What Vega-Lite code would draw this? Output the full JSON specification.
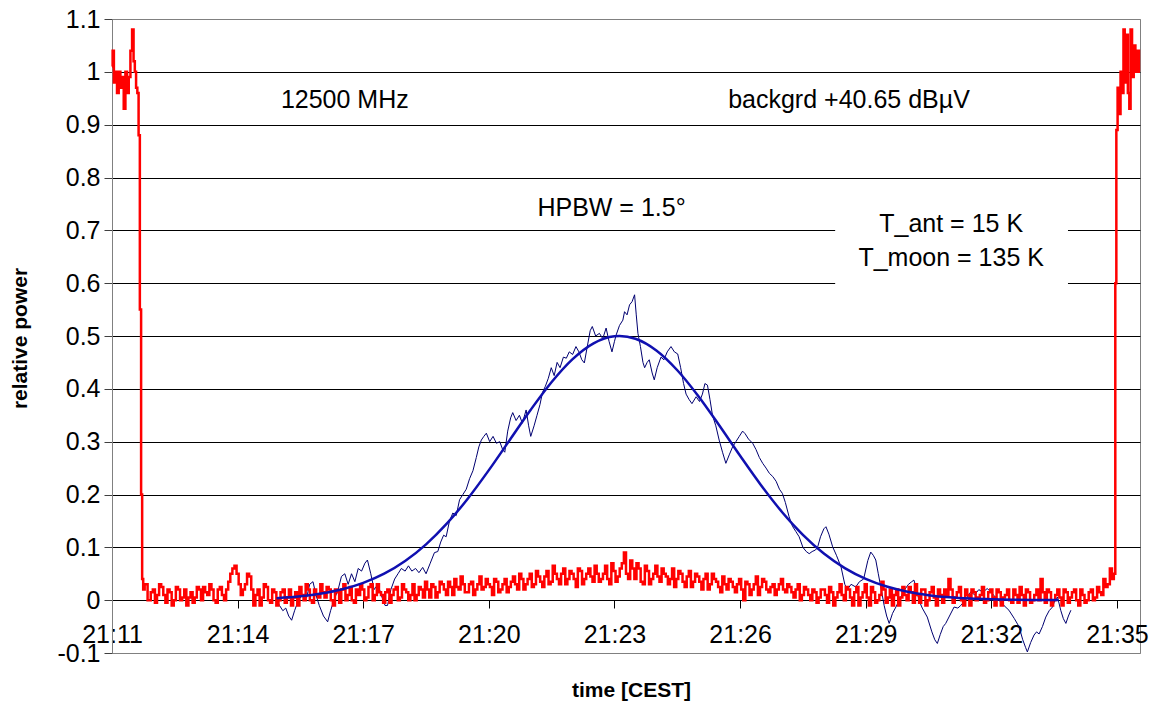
{
"$schema": "https://vega.github.io/schema/vega-lite/v6.json",
"width": 1028, "height": 634,
"autosize": {"type": "none"},
"padding": {"left": 112, "top": 19, "right": 16, "bottom": 57},
"background": "white",
"config": {"font": "Liberation Sans", "view": {"stroke": "#808080", "strokeWidth": 1}},
"datasets": {
"red": [
{"t":11.00,"v":1.01},{"t":11.03,"v":1.04},{"t":11.06,"v":0.98},{"t":11.10,"v":1.0},{"t":11.14,"v":0.96},{"t":11.18,"v":1.0},{"t":11.22,"v":0.97},{"t":11.26,"v":0.99},{"t":11.30,"v":0.93},{"t":11.34,"v":1.0},{"t":11.38,"v":0.96},{"t":11.42,"v":0.99},{"t":11.46,"v":1.04},{"t":11.50,"v":1.08},{"t":11.53,"v":1.02},{"t":11.56,"v":1.0},{"t":11.59,"v":0.97},{"t":11.62,"v":0.96},{"t":11.65,"v":0.88},{"t":11.68,"v":0.55},{"t":11.71,"v":0.2},{"t":11.73,"v":0.04},{"t":11.76,"v":0.02},{"t":11.80,"v":0.03},
{"t":11.9,"v":0.0},{"t":12.0,"v":0.02},{"t":12.1,"v":0.01},{"t":12.2,"v":0.025},{"t":12.3,"v":-0.005},{"t":12.4,"v":0.015},{"t":12.5,"v":0.0},{"t":12.6,"v":0.02},{"t":12.7,"v":0.005},{"t":12.8,"v":-0.01},{"t":12.9,"v":0.015},
{"t":13.0,"v":0.005},{"t":13.1,"v":0.02},{"t":13.2,"v":0.025},{"t":13.3,"v":0.01},{"t":13.4,"v":0.02},{"t":13.5,"v":-0.005},{"t":13.6,"v":0.025},{"t":13.7,"v":0.0},{"t":13.8,"v":0.035},{"t":13.9,"v":0.06},
{"t":14.0,"v":0.05},{"t":14.1,"v":0.01},{"t":14.2,"v":0.03},{"t":14.3,"v":0.045},{"t":14.4,"v":-0.01},{"t":14.5,"v":0.02},{"t":14.6,"v":0.005},{"t":14.7,"v":0.025},{"t":14.8,"v":-0.005},{"t":14.9,"v":0.015},
{"t":15.0,"v":0.0},{"t":15.1,"v":0.02},{"t":15.2,"v":0.005},{"t":15.3,"v":-0.01},{"t":15.4,"v":0.015},{"t":15.5,"v":0.025},{"t":15.6,"v":0.0},{"t":15.7,"v":0.02},{"t":15.8,"v":-0.005},{"t":15.9,"v":0.01},
{"t":16.0,"v":0.03},{"t":16.1,"v":0.005},{"t":16.2,"v":0.02},{"t":16.3,"v":-0.01},{"t":16.4,"v":0.015},{"t":16.5,"v":0.02},{"t":16.6,"v":0.0},{"t":16.7,"v":0.025},{"t":16.8,"v":-0.005},{"t":16.9,"v":0.01},
{"t":17.0,"v":0.02},{"t":17.1,"v":0.005},{"t":17.2,"v":0.03},{"t":17.3,"v":0.01},{"t":17.4,"v":0.015},{"t":17.5,"v":-0.005},{"t":17.6,"v":0.02},{"t":17.7,"v":0.01},{"t":17.8,"v":0.025},{"t":17.9,"v":0.005},
{"t":18.0,"v":0.02},{"t":18.1,"v":0.0},{"t":18.2,"v":0.03},{"t":18.3,"v":0.01},{"t":18.4,"v":0.02},{"t":18.5,"v":0.035},{"t":18.6,"v":0.005},{"t":18.7,"v":0.025},{"t":18.8,"v":0.015},{"t":18.9,"v":0.03},
{"t":19.0,"v":0.01},{"t":19.1,"v":0.025},{"t":19.2,"v":0.04},{"t":19.3,"v":0.02},{"t":19.4,"v":0.03},{"t":19.5,"v":0.015},{"t":19.6,"v":0.035},{"t":19.7,"v":0.02},{"t":19.8,"v":0.045},{"t":19.9,"v":0.025},
{"t":20.0,"v":0.03},{"t":20.1,"v":0.01},{"t":20.2,"v":0.035},{"t":20.3,"v":0.02},{"t":20.4,"v":0.04},{"t":20.5,"v":0.025},{"t":20.6,"v":0.045},{"t":20.7,"v":0.02},{"t":20.8,"v":0.04},{"t":20.9,"v":0.03},
{"t":21.0,"v":0.05},{"t":21.1,"v":0.03},{"t":21.2,"v":0.045},{"t":21.3,"v":0.025},{"t":21.4,"v":0.055},{"t":21.5,"v":0.035},{"t":21.6,"v":0.05},{"t":21.7,"v":0.03},{"t":21.8,"v":0.06},{"t":21.9,"v":0.04},
{"t":22.0,"v":0.05},{"t":22.1,"v":0.025},{"t":22.2,"v":0.055},{"t":22.3,"v":0.04},{"t":22.4,"v":0.06},{"t":22.5,"v":0.035},{"t":22.6,"v":0.05},{"t":22.7,"v":0.04},{"t":22.8,"v":0.065},{"t":22.9,"v":0.03},
{"t":23.0,"v":0.055},{"t":23.1,"v":0.045},{"t":23.2,"v":0.07},{"t":23.25,"v":0.09},{"t":23.3,"v":0.05},{"t":23.4,"v":0.075},{"t":23.5,"v":0.04},{"t":23.6,"v":0.06},{"t":23.7,"v":0.03},{"t":23.8,"v":0.055},{"t":23.9,"v":0.04},
{"t":24.0,"v":0.065},{"t":24.1,"v":0.035},{"t":24.2,"v":0.05},{"t":24.3,"v":0.03},{"t":24.4,"v":0.06},{"t":24.5,"v":0.04},{"t":24.6,"v":0.05},{"t":24.7,"v":0.025},{"t":24.8,"v":0.055},{"t":24.9,"v":0.035},
{"t":25.0,"v":0.045},{"t":25.1,"v":0.02},{"t":25.2,"v":0.05},{"t":25.3,"v":0.03},{"t":25.4,"v":0.04},{"t":25.5,"v":0.025},{"t":25.6,"v":0.045},{"t":25.7,"v":0.02},{"t":25.8,"v":0.035},{"t":25.9,"v":0.015},
{"t":26.0,"v":0.04},{"t":26.1,"v":0.0},{"t":26.2,"v":0.03},{"t":26.3,"v":0.02},{"t":26.4,"v":0.045},{"t":26.5,"v":0.025},{"t":26.6,"v":0.035},{"t":26.7,"v":0.015},{"t":26.8,"v":0.03},{"t":26.9,"v":0.02},
{"t":27.0,"v":0.04},{"t":27.1,"v":0.015},{"t":27.2,"v":0.025},{"t":27.3,"v":0.005},{"t":27.4,"v":0.03},{"t":27.5,"v":0.01},{"t":27.6,"v":0.02},{"t":27.7,"v":0.0},{"t":27.8,"v":0.015},{"t":27.9,"v":0.005},
{"t":28.0,"v":0.02},{"t":28.1,"v":-0.005},{"t":28.2,"v":0.015},{"t":28.3,"v":0.005},{"t":28.4,"v":0.03},{"t":28.5,"v":0.0},{"t":28.6,"v":0.02},{"t":28.7,"v":-0.01},{"t":28.8,"v":0.025},{"t":28.9,"v":0.005},
{"t":29.0,"v":0.03},{"t":29.1,"v":-0.01},{"t":29.2,"v":0.015},{"t":29.3,"v":0.0},{"t":29.4,"v":0.035},{"t":29.5,"v":-0.005},{"t":29.6,"v":0.02},{"t":29.7,"v":0.01},{"t":29.8,"v":-0.01},{"t":29.9,"v":0.025},
{"t":30.0,"v":0.0},{"t":30.1,"v":0.015},{"t":30.2,"v":0.03},{"t":30.3,"v":-0.005},{"t":30.4,"v":0.02},{"t":30.5,"v":0.0},{"t":30.6,"v":0.025},{"t":30.7,"v":-0.01},{"t":30.8,"v":0.01},{"t":30.9,"v":0.02},
{"t":31.0,"v":0.04},{"t":31.1,"v":-0.005},{"t":31.2,"v":0.015},{"t":31.3,"v":0.0},{"t":31.4,"v":0.02},{"t":31.5,"v":-0.01},{"t":31.6,"v":0.015},{"t":31.7,"v":0.005},{"t":31.8,"v":0.025},{"t":31.9,"v":0.0},
{"t":32.0,"v":0.02},{"t":32.1,"v":-0.01},{"t":32.2,"v":0.015},{"t":32.3,"v":0.005},{"t":32.4,"v":0.02},{"t":32.5,"v":-0.005},{"t":32.6,"v":0.01},{"t":32.7,"v":0.025},{"t":32.8,"v":-0.01},{"t":32.9,"v":0.015},
{"t":33.0,"v":0.0},{"t":33.1,"v":0.02},{"t":33.2,"v":0.04},{"t":33.3,"v":-0.005},{"t":33.4,"v":0.015},{"t":33.5,"v":0.0},{"t":33.6,"v":0.02},{"t":33.7,"v":-0.01},{"t":33.8,"v":0.015},{"t":33.9,"v":0.005},
{"t":34.0,"v":0.02},{"t":34.1,"v":-0.01},{"t":34.2,"v":0.01},{"t":34.3,"v":0.0},{"t":34.4,"v":0.02},{"t":34.5,"v":0.005},{"t":34.6,"v":0.015},{"t":34.7,"v":0.04},{"t":34.8,"v":0.03},{"t":34.86,"v":0.06},{"t":34.9,"v":0.04},{"t":34.95,"v":0.05},
{"t":34.97,"v":0.6},{"t":35.0,"v":0.89},{"t":35.03,"v":0.97},{"t":35.07,"v":0.92},{"t":35.1,"v":1.0},{"t":35.14,"v":0.96},{"t":35.17,"v":1.08},{"t":35.2,"v":0.98},{"t":35.24,"v":1.07},{"t":35.28,"v":0.96},{"t":35.31,"v":0.93},{"t":35.34,"v":1.08},{"t":35.38,"v":0.99},{"t":35.42,"v":1.05},{"t":35.46,"v":1.0},{"t":35.5,"v":1.04},{"t":35.55,"v":1.0},
{"t":11.95,"v":0.015},{"t":12.05,"v":-0.005},{"t":12.15,"v":0.03},{"t":12.25,"v":0.01},{"t":12.35,"v":0.02},{"t":12.45,"v":-0.01},{"t":12.55,"v":0.025},{"t":12.65,"v":0.0},{"t":12.75,"v":0.02},{"t":12.85,"v":0.005},{"t":12.95,"v":-0.005},
{"t":13.05,"v":0.025},{"t":13.15,"v":0.0},{"t":13.25,"v":0.015},{"t":13.35,"v":0.03},{"t":13.45,"v":0.0},{"t":13.55,"v":0.02},{"t":13.65,"v":0.01},{"t":13.75,"v":0.02},{"t":13.85,"v":0.05},{"t":13.95,"v":0.065},
{"t":14.05,"v":0.03},{"t":14.15,"v":0.02},{"t":14.25,"v":0.05},{"t":14.35,"v":0.02},{"t":14.45,"v":0.01},{"t":14.55,"v":-0.01},{"t":14.65,"v":0.03},{"t":14.75,"v":0.0},{"t":14.85,"v":0.02},{"t":14.95,"v":-0.01},
{"t":15.05,"v":0.015},{"t":15.15,"v":-0.005},{"t":15.25,"v":0.02},{"t":15.35,"v":0.005},{"t":15.45,"v":-0.01},{"t":15.55,"v":0.01},{"t":15.65,"v":0.03},{"t":15.75,"v":0.0},{"t":15.85,"v":0.02},{"t":15.95,"v":0.005},
{"t":16.05,"v":0.015},{"t":16.15,"v":0.025},{"t":16.25,"v":0.0},{"t":16.35,"v":0.02},{"t":16.45,"v":-0.005},{"t":16.55,"v":0.03},{"t":16.65,"v":0.01},{"t":16.75,"v":0.0},{"t":16.85,"v":0.02},{"t":16.95,"v":0.03},
{"t":17.05,"v":0.0},{"t":17.15,"v":0.025},{"t":17.25,"v":0.0},{"t":17.35,"v":0.03},{"t":17.45,"v":0.01},{"t":17.55,"v":0.015},{"t":17.65,"v":-0.005},{"t":17.75,"v":0.02},{"t":17.85,"v":0.0},{"t":17.95,"v":0.03},
{"t":18.05,"v":0.015},{"t":18.15,"v":0.01},{"t":18.25,"v":0.0},{"t":18.35,"v":0.025},{"t":18.45,"v":0.005},{"t":18.55,"v":0.02},{"t":18.65,"v":0.03},{"t":18.75,"v":0.005},{"t":18.85,"v":0.035},{"t":18.95,"v":0.02},
{"t":19.05,"v":0.035},{"t":19.15,"v":0.01},{"t":19.25,"v":0.025},{"t":19.35,"v":0.045},{"t":19.45,"v":0.015},{"t":19.55,"v":0.03},{"t":19.65,"v":0.01},{"t":19.75,"v":0.03},{"t":19.85,"v":0.02},{"t":19.95,"v":0.04},
{"t":20.05,"v":0.025},{"t":20.15,"v":0.04},{"t":20.25,"v":0.015},{"t":20.35,"v":0.03},{"t":20.45,"v":0.015},{"t":20.55,"v":0.035},{"t":20.65,"v":0.03},{"t":20.75,"v":0.05},{"t":20.85,"v":0.02},{"t":20.95,"v":0.04},
{"t":21.05,"v":0.025},{"t":21.15,"v":0.055},{"t":21.25,"v":0.035},{"t":21.35,"v":0.045},{"t":21.45,"v":0.03},{"t":21.55,"v":0.065},{"t":21.65,"v":0.04},{"t":21.75,"v":0.05},{"t":21.85,"v":0.03},{"t":21.95,"v":0.055},
{"t":22.05,"v":0.04},{"t":22.15,"v":0.06},{"t":22.25,"v":0.03},{"t":22.35,"v":0.05},{"t":22.45,"v":0.045},{"t":22.55,"v":0.065},{"t":22.65,"v":0.035},{"t":22.75,"v":0.05},{"t":22.85,"v":0.04},{"t":22.95,"v":0.07},
{"t":23.05,"v":0.035},{"t":23.15,"v":0.06},{"t":23.35,"v":0.04},{"t":23.45,"v":0.06},{"t":23.55,"v":0.07},{"t":23.65,"v":0.035},{"t":23.75,"v":0.065},{"t":23.85,"v":0.03},{"t":23.95,"v":0.05},
{"t":24.05,"v":0.045},{"t":24.15,"v":0.06},{"t":24.25,"v":0.045},{"t":24.35,"v":0.04},{"t":24.45,"v":0.025},{"t":24.55,"v":0.055},{"t":24.65,"v":0.035},{"t":24.75,"v":0.045},{"t":24.85,"v":0.025},{"t":24.95,"v":0.05},
{"t":25.05,"v":0.035},{"t":25.15,"v":0.04},{"t":25.25,"v":0.02},{"t":25.35,"v":0.05},{"t":25.45,"v":0.035},{"t":25.55,"v":0.015},{"t":25.65,"v":0.03},{"t":25.75,"v":0.04},{"t":25.85,"v":0.025},{"t":25.95,"v":0.03},
{"t":26.05,"v":0.02},{"t":26.15,"v":0.035},{"t":26.25,"v":0.01},{"t":26.35,"v":0.03},{"t":26.45,"v":0.01},{"t":26.55,"v":0.04},{"t":26.65,"v":0.02},{"t":26.75,"v":0.025},{"t":26.85,"v":0.01},{"t":26.95,"v":0.03},
{"t":27.05,"v":0.02},{"t":27.15,"v":0.03},{"t":27.25,"v":0.015},{"t":27.35,"v":0.02},{"t":27.45,"v":0.0},{"t":27.55,"v":0.025},{"t":27.65,"v":0.01},{"t":27.75,"v":0.02},{"t":27.85,"v":-0.005},{"t":27.95,"v":0.02},
{"t":28.05,"v":0.01},{"t":28.15,"v":0.025},{"t":28.25,"v":-0.01},{"t":28.35,"v":0.015},{"t":28.45,"v":0.01},{"t":28.55,"v":0.025},{"t":28.65,"v":0.005},{"t":28.75,"v":0.015},{"t":28.85,"v":-0.01},{"t":28.95,"v":0.015},
{"t":29.05,"v":0.005},{"t":29.15,"v":0.025},{"t":29.25,"v":-0.005},{"t":29.35,"v":0.01},{"t":29.45,"v":0.02},{"t":29.55,"v":0.005},{"t":29.65,"v":-0.01},{"t":29.75,"v":0.02},{"t":29.85,"v":0.005},{"t":29.95,"v":0.01},
{"t":30.05,"v":0.025},{"t":30.15,"v":-0.005},{"t":30.25,"v":0.01},{"t":30.35,"v":0.02},{"t":30.45,"v":-0.01},{"t":30.55,"v":0.015},{"t":30.65,"v":0.005},{"t":30.75,"v":0.02},{"t":30.85,"v":-0.005},{"t":30.95,"v":0.01},
{"t":31.05,"v":0.02},{"t":31.15,"v":0.005},{"t":31.25,"v":0.025},{"t":31.35,"v":-0.01},{"t":31.45,"v":0.01},{"t":31.55,"v":0.02},{"t":31.65,"v":0.0},{"t":31.75,"v":0.01},{"t":31.85,"v":-0.005},{"t":31.95,"v":0.015},
{"t":32.05,"v":0.005},{"t":32.15,"v":0.02},{"t":32.25,"v":-0.01},{"t":32.35,"v":0.01},{"t":32.45,"v":0.0},{"t":32.55,"v":0.02},{"t":32.65,"v":-0.005},{"t":32.75,"v":0.01},{"t":32.85,"v":0.02},{"t":32.95,"v":-0.005},
{"t":33.05,"v":0.01},{"t":33.15,"v":0.0},{"t":33.25,"v":0.015},{"t":33.35,"v":0.02},{"t":33.45,"v":-0.01},{"t":33.55,"v":0.01},{"t":33.65,"v":0.005},{"t":33.75,"v":0.02},{"t":33.85,"v":-0.005},{"t":33.95,"v":0.015},
{"t":34.05,"v":0.0},{"t":34.15,"v":0.02},{"t":34.25,"v":-0.005},{"t":34.35,"v":0.015},{"t":34.45,"v":0.0},{"t":34.55,"v":0.025},{"t":34.65,"v":0.01},{"t":34.75,"v":0.025}
],
"navy": [
{"t":14.93,"v":0.0},{"t":15.0,"v":-0.01},{"t":15.08,"v":-0.02},{"t":15.15,"v":-0.015},{"t":15.22,"v":-0.03},{"t":15.29,"v":-0.038},{"t":15.36,"v":-0.02},{"t":15.45,"v":0.0},{"t":15.55,"v":0.01},{"t":15.65,"v":0.005},{"t":15.72,"v":0.03},{"t":15.8,"v":0.035},{"t":15.87,"v":0.01},{"t":15.95,"v":-0.01},
{"t":16.05,"v":-0.03},{"t":16.15,"v":-0.041},{"t":16.22,"v":-0.02},{"t":16.3,"v":0.0},{"t":16.4,"v":0.02},{"t":16.48,"v":0.045},{"t":16.56,"v":0.05},{"t":16.64,"v":0.03},{"t":16.72,"v":0.05},{"t":16.8,"v":0.035},{"t":16.88,"v":0.06},{"t":16.96,"v":0.055},
{"t":17.04,"v":0.07},{"t":17.1,"v":0.076},{"t":17.18,"v":0.05},{"t":17.26,"v":0.02},{"t":17.35,"v":0.03},{"t":17.45,"v":0.005},{"t":17.52,"v":-0.01},{"t":17.58,"v":-0.01},{"t":17.66,"v":0.02},{"t":17.75,"v":0.04},{"t":17.83,"v":0.05},{"t":17.91,"v":0.06},
{"t":18.0,"v":0.055},{"t":18.08,"v":0.065},{"t":18.16,"v":0.055},{"t":18.25,"v":0.06},{"t":18.33,"v":0.052},{"t":18.42,"v":0.062},{"t":18.5,"v":0.05},{"t":18.6,"v":0.07},{"t":18.7,"v":0.09},{"t":18.78,"v":0.092},{"t":18.85,"v":0.11},{"t":18.92,"v":0.123},{"t":18.98,"v":0.12},
{"t":19.06,"v":0.15},{"t":19.14,"v":0.165},{"t":19.22,"v":0.16},{"t":19.3,"v":0.19},{"t":19.38,"v":0.2},{"t":19.46,"v":0.21},{"t":19.54,"v":0.23},{"t":19.62,"v":0.245},{"t":19.7,"v":0.27},{"t":19.76,"v":0.29},{"t":19.82,"v":0.303},{"t":19.88,"v":0.31},{"t":19.94,"v":0.316},
{"t":20.02,"v":0.3},{"t":20.1,"v":0.31},{"t":20.18,"v":0.297},{"t":20.26,"v":0.3},{"t":20.33,"v":0.285},{"t":20.38,"v":0.28},{"t":20.45,"v":0.32},{"t":20.52,"v":0.345},{"t":20.57,"v":0.355},{"t":20.65,"v":0.34},{"t":20.73,"v":0.35},{"t":20.8,"v":0.335},{"t":20.89,"v":0.36},{"t":20.95,"v":0.33},
{"t":21.0,"v":0.31},{"t":21.08,"v":0.33},{"t":21.15,"v":0.35},{"t":21.22,"v":0.37},{"t":21.28,"v":0.393},{"t":21.35,"v":0.405},{"t":21.42,"v":0.42},{"t":21.49,"v":0.44},{"t":21.56,"v":0.425},{"t":21.63,"v":0.45},{"t":21.7,"v":0.44},{"t":21.78,"v":0.46},{"t":21.85,"v":0.458},{"t":21.92,"v":0.47},
{"t":22.0,"v":0.465},{"t":22.08,"v":0.48},{"t":22.15,"v":0.47},{"t":22.22,"v":0.455},{"t":22.28,"v":0.449},{"t":22.35,"v":0.48},{"t":22.42,"v":0.51},{"t":22.47,"v":0.518},{"t":22.55,"v":0.5},{"t":22.64,"v":0.505},{"t":22.72,"v":0.495},{"t":22.8,"v":0.515},{"t":22.87,"v":0.49},{"t":22.94,"v":0.47},
{"t":23.0,"v":0.49},{"t":23.04,"v":0.502},{"t":23.12,"v":0.52},{"t":23.2,"v":0.53},{"t":23.24,"v":0.546},{"t":23.3,"v":0.54},{"t":23.36,"v":0.559},{"t":23.42,"v":0.565},{"t":23.48,"v":0.578},{"t":23.52,"v":0.54},{"t":23.56,"v":0.505},{"t":23.62,"v":0.48},{"t":23.68,"v":0.45},{"t":23.72,"v":0.44},{"t":23.78,"v":0.45},{"t":23.83,"v":0.455},{"t":23.9,"v":0.43},{"t":23.95,"v":0.417},
{"t":24.02,"v":0.44},{"t":24.11,"v":0.46},{"t":24.18,"v":0.455},{"t":24.26,"v":0.47},{"t":24.35,"v":0.48},{"t":24.43,"v":0.47},{"t":24.51,"v":0.466},{"t":24.58,"v":0.44},{"t":24.65,"v":0.41},{"t":24.71,"v":0.39},{"t":24.78,"v":0.38},{"t":24.85,"v":0.372},{"t":24.95,"v":0.385},
{"t":25.03,"v":0.376},{"t":25.1,"v":0.39},{"t":25.16,"v":0.41},{"t":25.22,"v":0.407},{"t":25.28,"v":0.38},{"t":25.34,"v":0.35},{"t":25.42,"v":0.33},{"t":25.5,"v":0.303},{"t":25.58,"v":0.28},{"t":25.66,"v":0.259},{"t":25.74,"v":0.275},{"t":25.82,"v":0.29},{"t":25.9,"v":0.3},{"t":25.98,"v":0.31},
{"t":26.06,"v":0.32},{"t":26.12,"v":0.315},{"t":26.2,"v":0.305},{"t":26.3,"v":0.297},{"t":26.38,"v":0.285},{"t":26.46,"v":0.27},{"t":26.54,"v":0.259},{"t":26.62,"v":0.25},{"t":26.7,"v":0.24},{"t":26.78,"v":0.234},{"t":26.86,"v":0.225},{"t":26.94,"v":0.21},
{"t":27.01,"v":0.202},{"t":27.08,"v":0.185},{"t":27.17,"v":0.158},{"t":27.25,"v":0.14},{"t":27.33,"v":0.13},{"t":27.41,"v":0.12},{"t":27.5,"v":0.1},{"t":27.58,"v":0.092},{"t":27.65,"v":0.088},{"t":27.72,"v":0.092},{"t":27.8,"v":0.095},{"t":27.85,"v":0.1},{"t":27.92,"v":0.12},
{"t":28.0,"v":0.135},{"t":28.05,"v":0.139},{"t":28.12,"v":0.125},{"t":28.21,"v":0.101},{"t":28.3,"v":0.085},{"t":28.41,"v":0.063},{"t":28.5,"v":0.03},{"t":28.56,"v":0.02},{"t":28.65,"v":0.03},{"t":28.76,"v":0.025},{"t":28.85,"v":0.035},{"t":28.95,"v":0.04},
{"t":29.05,"v":0.075},{"t":29.12,"v":0.091},{"t":29.18,"v":0.085},{"t":29.24,"v":0.076},{"t":29.3,"v":0.05},{"t":29.36,"v":0.025},{"t":29.44,"v":-0.01},{"t":29.5,"v":-0.03},{"t":29.56,"v":-0.044},{"t":29.64,"v":-0.025},{"t":29.72,"v":-0.013},{"t":29.8,"v":0.0},{"t":29.92,"v":0.019},
{"t":30.02,"v":0.03},{"t":30.1,"v":0.035},{"t":30.15,"v":0.038},{"t":30.22,"v":0.02},{"t":30.27,"v":0.0},{"t":30.35,"v":-0.015},{"t":30.47,"v":-0.032},{"t":30.58,"v":-0.06},{"t":30.65,"v":-0.075},{"t":30.71,"v":-0.082},{"t":30.78,"v":-0.065},{"t":30.85,"v":-0.05},{"t":30.91,"v":-0.044},
{"t":31.0,"v":-0.03},{"t":31.11,"v":-0.013},{"t":31.2,"v":-0.015},{"t":31.27,"v":-0.01},{"t":31.38,"v":0.0},{"t":31.51,"v":0.016},{"t":31.6,"v":0.01},{"t":31.7,"v":0.02},{"t":31.8,"v":0.015},{"t":31.9,"v":0.022},
{"t":32.0,"v":0.015},{"t":32.1,"v":0.005},{"t":32.18,"v":0.0},{"t":32.3,"v":-0.01},{"t":32.42,"v":-0.019},{"t":32.55,"v":-0.035},{"t":32.66,"v":-0.05},{"t":32.75,"v":-0.075},{"t":32.82,"v":-0.09},{"t":32.86,"v":-0.098},{"t":32.94,"v":-0.08},
{"t":33.02,"v":-0.066},{"t":33.08,"v":-0.06},{"t":33.14,"v":-0.064},{"t":33.22,"v":-0.05},{"t":33.3,"v":-0.032},{"t":33.38,"v":-0.02},{"t":33.46,"v":-0.013},{"t":33.52,"v":0.0},{"t":33.58,"v":0.006},{"t":33.66,"v":-0.02},{"t":33.72,"v":-0.035},{"t":33.78,"v":-0.044},{"t":33.84,"v":-0.03},{"t":33.9,"v":-0.019}
],
"fit": [
{"t":14.93,"v":0.0038},{"t":15.5,"v":0.0073},{"t":16.0,"v":0.0125},{"t":16.5,"v":0.0205},{"t":17.0,"v":0.0327},{"t":17.5,"v":0.0501},{"t":18.0,"v":0.0741},{"t":18.5,"v":0.1057},{"t":19.0,"v":0.1453},{"t":19.5,"v":0.1925},{"t":20.0,"v":0.2461},{"t":20.5,"v":0.3033},{"t":21.0,"v":0.3604},{"t":21.5,"v":0.413},{"t":22.0,"v":0.4563},{"t":22.5,"v":0.4862},{"t":23.0,"v":0.4995},{"t":23.12,"v":0.5},{"t":23.5,"v":0.4948},{"t":24.0,"v":0.4726},{"t":24.5,"v":0.4352},{"t":25.0,"v":0.3865},{"t":25.5,"v":0.331},{"t":26.0,"v":0.2733},{"t":26.5,"v":0.2176},{"t":27.0,"v":0.167},{"t":27.5,"v":0.1236},{"t":28.0,"v":0.0882},{"t":28.5,"v":0.0607},{"t":29.0,"v":0.0403},{"t":29.5,"v":0.0258},{"t":30.0,"v":0.0159},{"t":30.5,"v":0.0095},{"t":31.0,"v":0.0054},{"t":31.5,"v":0.003},{"t":32.0,"v":0.0016},{"t":32.5,"v":0.0008},{"t":33.0,"v":0.0004},{"t":33.6,"v":0.0002}
],
"notes": [
{"t":16.56,"v":0.947,"label":"12500 MHz"},
{"t":28.6,"v":0.947,"label":"backgrd +40.65 dBµV"},
{"t":22.93,"v":0.742,"label":"HPBW = 1.5°"},
{"t":31.04,"v":0.712,"label":"T_ant = 15 K"},
{"t":31.04,"v":0.648,"label":"T_moon = 135 K"}
],
"box": [{"t":28.27,"t2":33.83,"v":0.575,"v2":0.77}]
},
"encoding": {
"x": {"field": "t", "type": "quantitative",
 "scale": {"domain": [11, 35.55], "nice": false, "zero": false},
 "axis": {"values": [11,14,17,20,23,26,29,32,35], "labelExpr": "'21:' + datum.value", "offset": -53, "grid": false,
  "domainColor": "black", "tickColor": "black", "tickSize": 8, "labelFontSize": 25, "labelColor": "black", "labelPadding": 14,
  "labelFlush": false, "labelOverlap": false,
  "title": "time [CEST]", "titleFontSize": 21, "titleFontWeight": "bold", "titleColor": "black",
  "titleX": 519, "titleY": 90, "titleAlign": "center", "titleBaseline": "middle"}},
"y": {"field": "v", "type": "quantitative",
 "scale": {"domain": [-0.1, 1.1], "nice": false, "zero": false},
 "axis": {"values": [-0.1,0,0.1,0.2,0.3,0.4,0.5,0.6,0.7,0.8,0.9,1,1.1], "grid": true,
  "labelExpr": "datum.value < 0 ? '-0.1' : format(datum.value, '.1~f')",
  "gridColor": {"condition": {"test": "datum.value > 1.05 || datum.value < -0.05", "value": "#808080"}, "value": "black"},
  "gridOpacity": 1, "gridWidth": 1,
  "domainColor": "#808080", "tickColor": "#404040", "tickSize": 8, "labelFontSize": 25, "labelColor": "black", "labelPadding": 4,
  "labelFlush": false, "labelOverlap": false,
  "title": "relative power", "titleFontSize": 21, "titleFontWeight": "bold", "titleColor": "black",
  "titleX": -92, "titleY": 319, "titleAngle": -90, "titleAlign": "center", "titleBaseline": "middle"}}
},
"layer": [
{"data": {"name": "box"}, "mark": {"type": "rect", "fill": "white", "stroke": null},
 "encoding": {"x2": {"field": "t2"}, "y2": {"field": "v2"}}},
{"data": {"name": "notes"}, "mark": {"type": "text", "fontSize": 25, "color": "black", "align": "center", "baseline": "middle"},
 "encoding": {"text": {"field": "label"}}},
{"data": {"name": "navy"}, "mark": {"type": "line", "color": "#000070", "strokeWidth": 1}},
{"data": {"name": "red"}, "mark": {"type": "line", "color": "#FF0000", "strokeWidth": 2.5, "interpolate": "step"}},
{"data": {"name": "fit"}, "mark": {"type": "line", "color": "#1010B0", "strokeWidth": 2.5, "interpolate": "monotone"}}
]
}
